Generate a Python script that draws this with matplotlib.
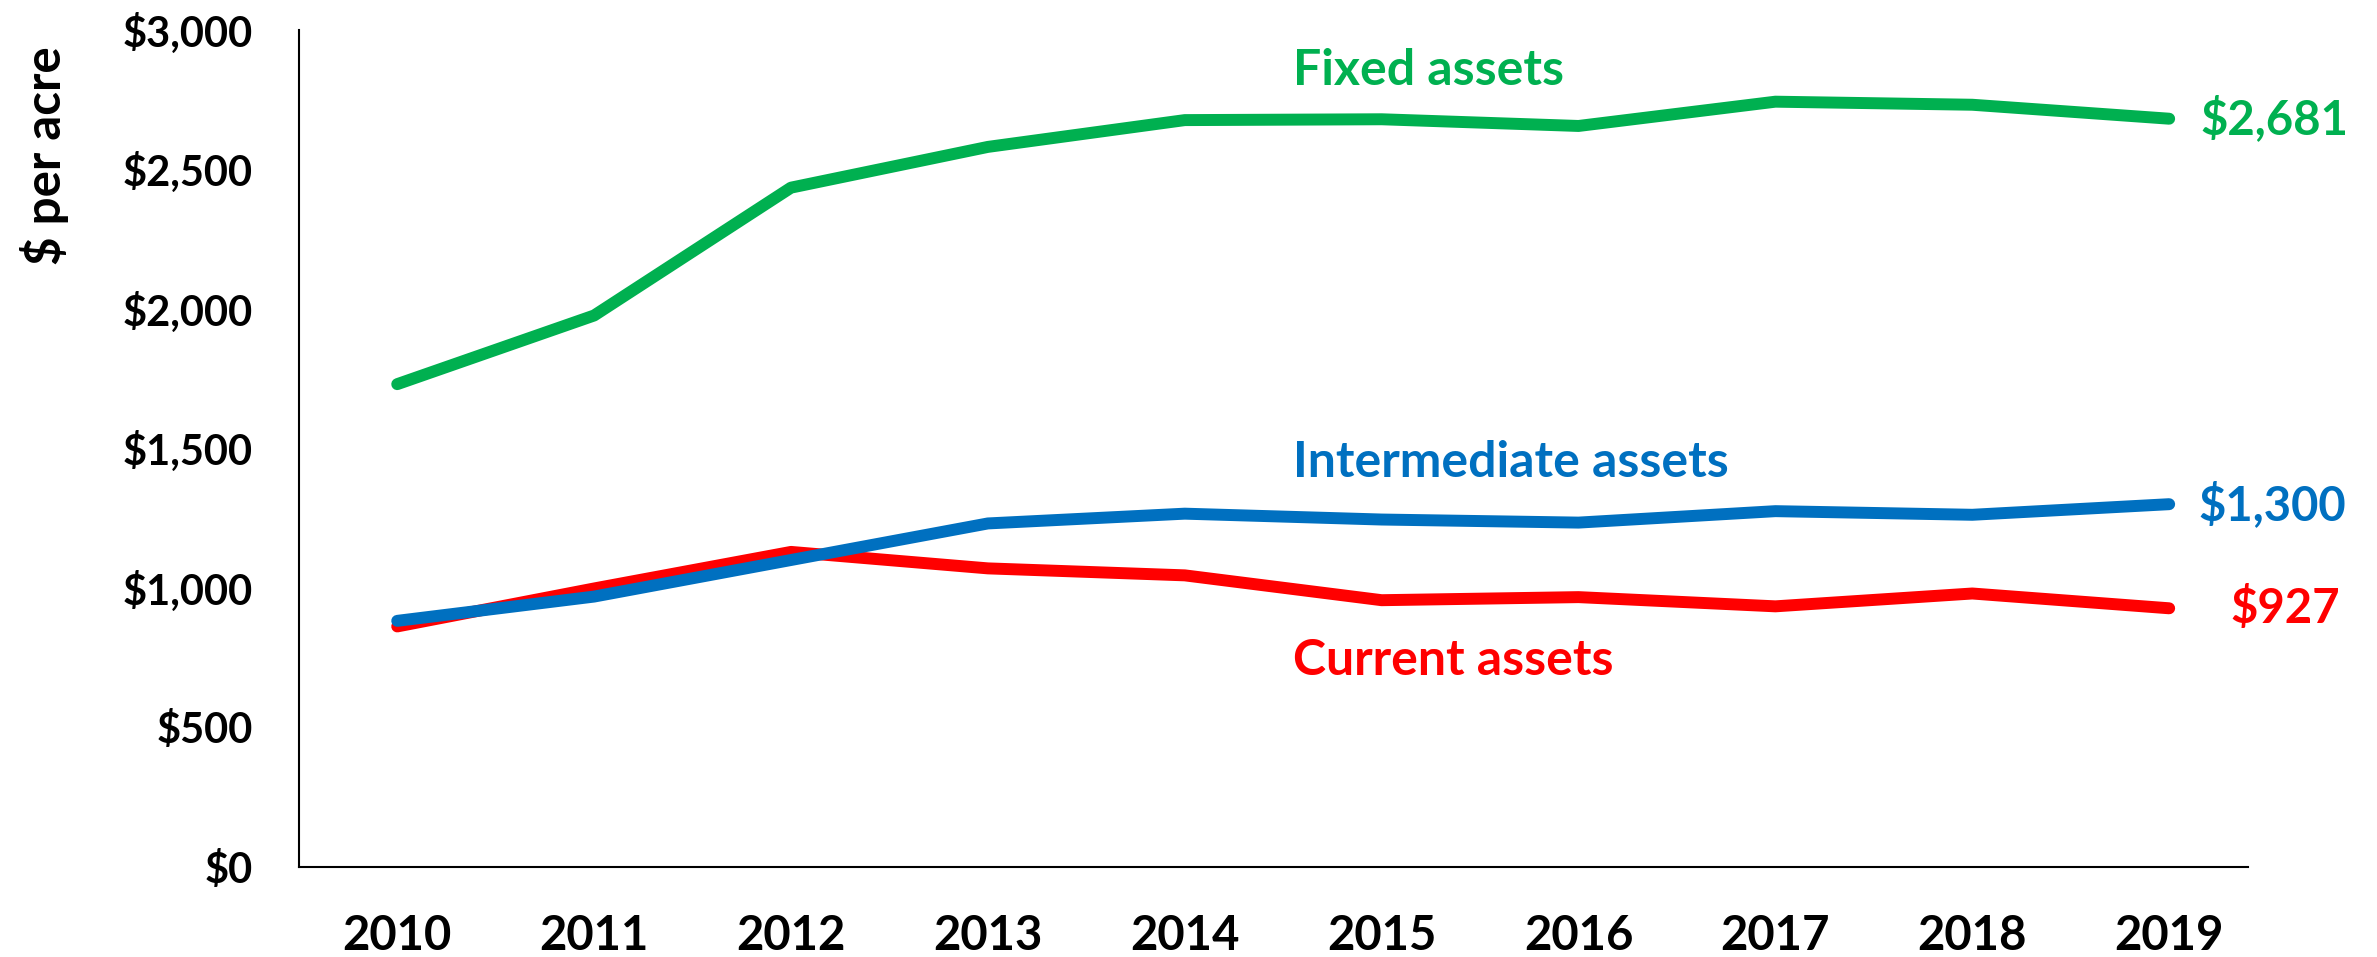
import matplotlib.pyplot as plt

years = ['2010', '2011', '2012', '2013', '2014', '2015', '2016', '2017', '2018', '2019']
fixed = [1730, 1976, 2434, 2580, 2676, 2679, 2655, 2742, 2731, 2681]
intermediate = [882, 969, 1100, 1231, 1266, 1245, 1234, 1275, 1262, 1300]
current = [862, 998, 1129, 1070, 1045, 956, 967, 934, 980, 927]

green = '#00B050'
blue = '#0070C0'
red = '#FF0000'

plt.rcParams['font.family'] = ['Lato', 'DejaVu Sans']
plt.rcParams['font.weight'] = 'bold'

fig = plt.figure(figsize=(23.77, 9.57), dpi=100)
ax = fig.add_axes([0.1257, 0.094, 0.82, 0.875])

x = range(len(years))
ax.plot(x, fixed, color=green, lw=8.6, solid_capstyle='round', solid_joinstyle='round')
ax.plot(x, current, color=red, lw=8.6, solid_capstyle='round', solid_joinstyle='round')
ax.plot(x, intermediate, color=blue, lw=8.6, solid_capstyle='round', solid_joinstyle='round')

# series names
ax.text(4.55, 2853, 'Fixed assets', color=green, fontsize=36, fontweight='bold', va='center')
ax.text(4.55, 1451, 'Intermediate assets', color=blue, fontsize=36, fontweight='bold', va='center')
ax.text(4.55, 739, 'Current assets', color=red, fontsize=36, fontweight='bold', va='center')

# end values
ax.text(9.157, fixed[-1], '${:,}'.format(fixed[-1]), color=green, fontsize=34, fontweight='bold', va='center')
ax.text(9.15, intermediate[-1], '${:,}'.format(intermediate[-1]), color=blue, fontsize=34, fontweight='bold', va='center')
ax.text(9.31, current[-1], '${:,}'.format(current[-1]), color=red, fontsize=34, fontweight='bold', va='center')

ax.set_xlim(-0.5, 9.4)
ax.set_ylim(0, 3000)
ax.set_xticks(list(x))
ax.set_xticklabels(years, fontsize=34, fontweight='bold')
ax.set_yticks(range(0, 3001, 500))
ax.set_yticklabels(['${:,}'.format(v) for v in range(0, 3001, 500)], fontsize=30, fontweight='bold')
ax.tick_params(axis='y', length=0, pad=33)
ax.tick_params(axis='x', length=0, pad=34)
ax.set_ylabel('$ per acre', fontsize=35.5, fontweight='bold')
ax.yaxis.set_label_coords(-0.118, 0.849)

for s in ['top', 'right']:
    ax.spines[s].set_visible(False)
ax.spines['left'].set_linewidth(1.5)
ax.spines['bottom'].set_linewidth(1.5)

fig.savefig('out.png', dpi=100)
